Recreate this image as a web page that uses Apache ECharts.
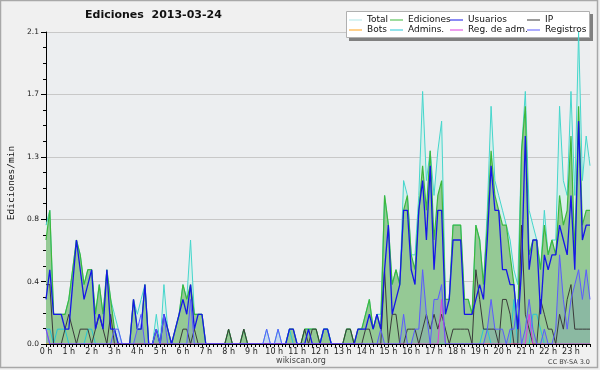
<!DOCTYPE html>
<html><head><meta charset="utf-8">
<script src="https://cdn.jsdelivr.net/npm/echarts@6/dist/echarts.min.js"></script>
<style>html,body{margin:0;padding:0;background:#f0f0f0}#c{width:600px;height:370px}</style>
</head><body><div id="c"></div>
<script>
// ---- data (edits per minute, 10-minute bins, 144 bins) ----
const hourLabels = ['0 h','1 h','2 h','3 h','4 h','5 h','6 h','7 h','8 h','9 h','10 h','11 h','12 h','13 h','14 h','15 h','16 h','17 h','18 h','19 h','20 h','21 h','22 h','23 h'];
const yTickLabels = ['0.0','0.4','0.8','1.3','1.7','2.1'];
const total = [
 .8,.9,.2,.2,.2,.2,  .3,.5,.7,.6,.4,.5,  .5,.2,.4,.2,.5,.3,  .2,.1,0,0,0,.3,
 .2,.3,.4,0,0,.2,  0,.4,.1,0,.1,.2,  .4,.3,.7,.2,.2,.2,  0,0,0,0,0,0,
 .1,0,0,0,.1,0,  0,0,0,0,.1,0,  0,.1,0,0,.1,.1,  0,0,.1,.1,.1,.1,
 0,.1,.1,0,0,0,  0,.1,.1,0,.1,.1,  .2,.3,.1,.2,.2,1.0,  .8,.4,.5,.4,1.1,1.0,
 .6,.6,1.0,1.7,1.1,1.3,  1.0,1.3,1.5,.3,.3,.8,  .8,.8,.3,.3,.2,.8,  .7,.4,.9,1.6,1.1,1.0,
 .9,.8,.7,.5,.4,1.3,  1.7,.9,.8,.7,.5,.9,  .6,.7,.7,1.6,1.1,1.0,  1.7,1.0,2.1,1.1,1.4,1.2
];
const ediciones = [
 .7,.9,.2,.2,.2,.2,  .3,.5,.7,.6,.4,.5,  .5,.2,.4,.2,.5,.3,  .1,0,0,0,0,.3,
 .1,.1,.4,0,0,.1,  0,.2,.1,0,.1,.2,  .4,.3,.4,.2,.2,.2,  0,0,0,0,0,0,
 .1,0,0,0,.1,0,  0,0,0,0,0,0,  0,0,0,0,.1,.1,  0,0,.1,.1,.1,.1,
 0,.1,.1,0,0,0,  0,.1,.1,0,.1,.1,  .2,.3,.1,.2,.1,1.0,  .8,.4,.5,.4,.9,1.0,
 .6,.5,.9,1.2,.9,1.3,  .7,1.0,1.1,.3,.3,.8,  .8,.8,.3,.3,.2,.8,  .7,.4,.8,1.3,1.0,.9,
 .8,.8,.6,.4,.1,1.3,  1.6,.6,.7,.7,.5,.8,  .6,.7,.6,1.0,.8,.9,  1.4,.6,1.6,.8,.9,.9
];
const usuarios = [
 .3,.5,.2,.2,.2,.1,  .1,.4,.7,.5,.3,.4,  .5,.1,.2,.1,.5,.1,  .1,0,0,0,0,.3,
 .1,.1,.4,0,0,.1,  0,.2,.1,0,.1,.2,  .3,.2,.4,.1,.2,.2,  0,0,0,0,0,0,
 0,0,0,0,0,0,  0,0,0,0,0,0,  0,0,0,0,.1,.1,  0,0,0,.1,0,0,
 0,.1,.1,0,0,0,  0,0,0,0,.1,.1,  .1,.2,.1,.2,.1,.5,  .8,.2,.3,.4,.9,.9,
 .5,.4,.9,1.1,.7,1.2,  .5,.9,.9,.2,.3,.7,  .7,.7,.2,.2,.2,.3,  .4,.3,.7,1.2,.9,.9,
 .5,.5,.4,.4,.1,.5,  1.4,.5,.7,.7,.2,.6,  .5,.6,.6,.8,.7,.6,  1.0,.5,1.5,.7,.8,.8
];
const ip = [
 .4,.4,0,0,0,.1,  .2,.1,0,.1,.1,.1,  0,.1,.2,.1,0,.2,  0,0,0,0,0,0,
 0,0,0,0,0,0,  0,0,0,0,0,0,  .1,.1,0,.1,0,0,  0,0,0,0,0,0,
 .1,0,0,0,.1,0,  0,0,0,0,0,0,  0,0,0,0,0,0,  0,0,.1,0,.1,.1,
 0,0,0,0,0,0,  0,.1,.1,0,0,0,  .1,.1,0,0,0,.5,  0,.2,.2,0,0,.1,
 .1,.1,0,.1,.2,.1,  .2,.1,.2,.1,0,.1,  .1,.1,.1,.1,0,.5,  .3,.1,.1,.1,.1,0,
 .3,.3,.2,0,0,.8,  .2,.1,0,0,.3,.2,  .1,.1,0,.2,.1,.3,  .4,.1,.1,.1,.1,.1
];
const bots = new Array(144).fill(0);
const admins = [
 .1,.1,0,.1,.1,.1,  0,0,0,0,0,.1,  .1,0,0,0,0,0,  0,0,0,0,0,0,
 0,0,0,0,0,0,  0,0,0,0,0,0,  0,0,0,0,0,0,  0,0,0,0,0,0,
 0,0,0,0,0,0,  0,0,0,0,0,0,  0,0,0,0,.1,0,  0,0,0,0,0,0,
 0,.1,.1,0,0,0,  0,0,0,0,0,0,  0,0,0,0,0,0,  0,0,0,0,0,0,
 0,0,0,0,0,0,  0,0,0,0,0,0,  0,0,0,0,0,0,  0,.1,.1,0,0,0,
 0,0,0,.3,0,0,  0,0,.2,.2,.1,0,  0,0,0,0,0,0,  0,0,0,0,0,0
];
const regAdm = [
 .1,0,0,0,0,0,  0,0,0,0,0,0,  0,0,0,0,0,0,  0,0,0,0,0,0,
 0,0,0,0,0,0,  0,0,0,0,0,0,  0,0,0,0,0,0,  0,0,0,0,0,0,
 0,0,0,0,0,0,  0,0,0,0,0,0,  0,0,0,0,0,0,  0,0,0,0,0,0,
 0,0,0,0,0,0,  0,0,0,0,0,0,  0,0,0,0,0,0,  0,0,0,0,0,0,
 0,0,0,0,0,0,  0,0,.3,0,0,0,  0,0,0,0,0,0,  0,0,0,0,0,0,
 0,0,0,0,0,0,  0,.2,0,0,0,0,  0,0,0,0,0,0,  0,0,0,0,0,0
];
const registros = [
 .1,0,0,0,0,0,  0,0,0,0,0,0,  0,0,0,0,0,0,  .1,.1,0,0,0,0,
 .1,.2,0,0,0,.1,  0,.2,0,0,0,0,  0,0,.3,0,0,0,  0,0,0,0,0,0,
 0,0,0,0,0,0,  0,0,0,0,.1,0,  0,.1,0,0,0,0,  0,0,0,0,0,0,
 0,0,0,0,0,0,  0,0,0,0,0,0,  0,0,0,0,.1,0,  0,0,0,0,.2,0,
 0,.1,.1,.5,.2,0,  .3,.3,.4,0,0,0,  0,0,0,0,0,0,  0,0,.1,.3,.1,.1,
 .1,0,.1,.1,.3,0,  .1,.3,.1,0,0,.1,  0,0,.1,.6,.3,.1,  .3,.4,.5,.3,.5,.3
];
const categories = [];
for (let h = 0; h < 24; h++) for (let m = 0; m < 60; m += 10) categories.push(h + ':' + (m < 10 ? '0' : '') + m);

// ---- chart ----
const chart = echarts.init(document.getElementById('c'), null, {renderer: 'canvas'});
const FONT = 'DejaVu Sans';
function line(name, data, color, width, area, z) {
  const s = {name, type: 'line', data, symbol: 'none', z: z,
    lineStyle: {color, width}, itemStyle: {color}, emphasis: {disabled: true}};
  if (area) s.areaStyle = {color: area, opacity: 1};
  return s;
}
const legendItems = [
  ['Total', 349, 0, '#aee6e6'], ['Ediciones', 390, 0], ['Usuarios', 450, 0], ['IP', 527, 0],
  ['Bots', 349, 1], ['Admins.', 390, 1], ['Reg. de adm.', 450, 1], ['Registros', 527, 1]
];
const legends = legendItems.map(([name, left, row, col]) => ({
  data: [col ? {name, itemStyle: {color: col}} : name],
  left, top: row ? 25.5 : 15.5, padding: 0, itemGap: 0, itemWidth: 13, itemHeight: 1, icon: 'rect',
  selectedMode: false, z: 6,
  textStyle: {fontFamily: FONT, fontSize: 9, color: '#111'}
}));
chart.setOption({
  animation: false,
  backgroundColor: '#f0f0f0',
  title: {text: 'Ediciones  2013-03-24', left: 85, top: 10, padding: 0,
    textStyle: {fontFamily: FONT, fontWeight: 'bold', fontSize: 11, color: '#111'}},
  legend: legends,
  grid: {left: 46, right: 10, top: 32, bottom: 26, show: true, backgroundColor: '#eceef0', borderWidth: 0},
  xAxis: {type: 'category', data: categories, boundaryGap: false, z: 3,
    axisLine: {lineStyle: {color: '#000', width: 1}},
    axisTick: {show: true, interval: 0, length: 3, lineStyle: {color: '#000'}},
    axisLabel: {interval: 5, margin: 4, fontFamily: FONT, fontSize: 8, color: '#222',
      formatter: (v, i) => hourLabels[Math.round(i / 6)]},
    splitLine: {show: false}},
  yAxis: {type: 'value', min: 0, max: 2.1, interval: 0.42,
    axisLine: {show: true, lineStyle: {color: '#000', width: 1}},
    axisTick: {show: true, length: 5, lineStyle: {color: '#000'}},
    minorTick: {show: true, splitNumber: 4, length: 3, lineStyle: {color: '#000'}},
    axisLabel: {margin: 7, fontFamily: FONT, fontSize: 7.5, color: '#222',
      formatter: (v) => yTickLabels[Math.round(v / 0.42)]},
    splitLine: {show: true, lineStyle: {color: '#c8c8c8', width: 1}}},
  graphic: [
    {type: 'rect', z: -1, shape: {x: 0.5, y: 0.5, width: 597, height: 367}, style: {fill: 'none', stroke: '#a8a8a8', lineWidth: 1.5}},
    {type: 'rect', z: 1, shape: {x: 349, y: 14, width: 244, height: 27}, style: {fill: '#808080'}},
    {type: 'rect', z: 1, shape: {x: 346.5, y: 11.5, width: 243, height: 26}, style: {fill: '#ffffff', stroke: '#b0b0b0', lineWidth: 1}},
    {type: 'text', z: 5, x: 12, y: 183, rotation: Math.PI / 2,
      style: {text: 'Ediciones/min', font: '9.5px "DejaVu Sans Mono"', fill: '#111', textAlign: 'center', textVerticalAlign: 'middle'}},
    {type: 'text', z: 5, x: 301, y: 361,
      style: {text: 'wikiscan.org', font: '8px "DejaVu Sans"', fill: '#444', textAlign: 'center', textVerticalAlign: 'middle'}},
    {type: 'text', z: 5, x: 590, y: 362,
      style: {text: 'CC BY-SA 3.0', font: '6.5px "DejaVu Sans"', fill: '#444', textAlign: 'right', textVerticalAlign: 'middle'}}
  ],
  series: [
    line('Total', total, '#45d6cc', 1, '#d8efeb', 2),
    line('Ediciones', ediciones, '#3db83d', 1.2, '#95c995', 2),
    line('Bots', bots, '#ffa31a', 1, null, 2),
    line('Admins.', admins, '#26c6d6', 1, null, 2),
    line('IP', ip, '#3a3a3a', 1, null, 2),
    line('Usuarios', usuarios, '#1616e8', 1.3, null, 2),
    line('Reg. de adm.', regAdm, '#dd3cdd', 1, null, 2),
    line('Registros', registros, '#5b5bff', 1, 'rgba(80,80,255,0.13)', 2)
  ]
});
</script>
</body></html>
